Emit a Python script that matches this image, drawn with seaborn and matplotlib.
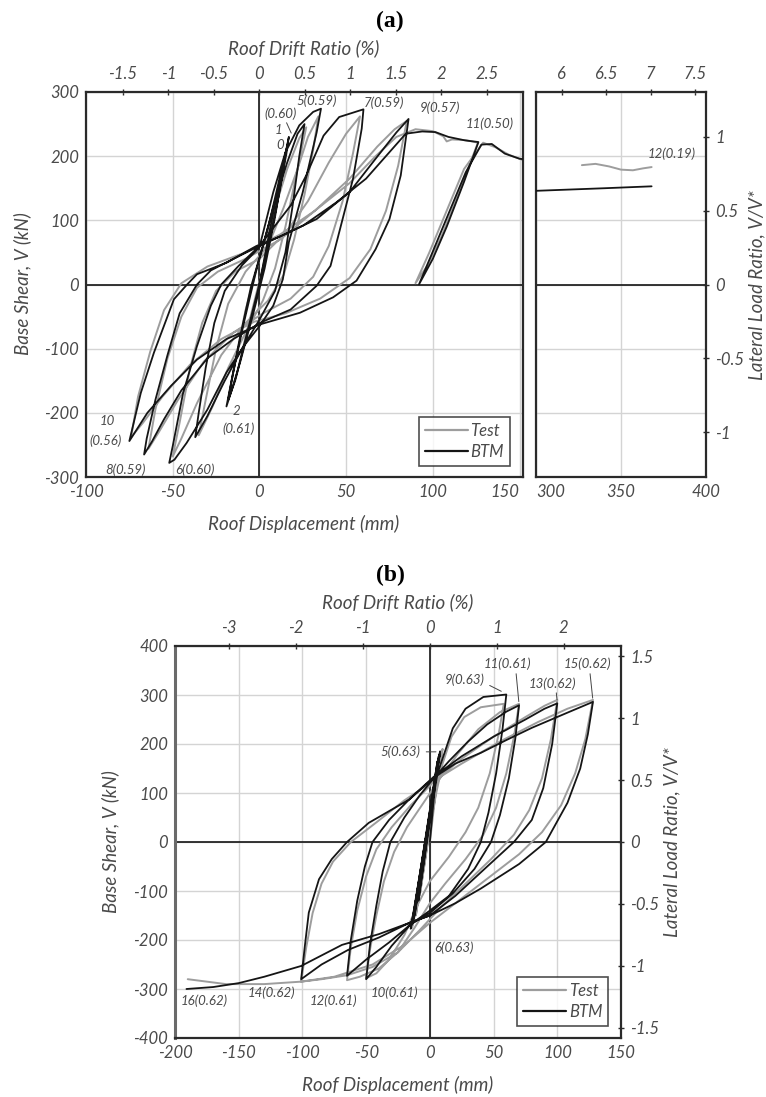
import matplotlib
matplotlib.use("Agg")
import matplotlib.pyplot as plt
from matplotlib.lines import Line2D
import pandas as pd
import seaborn as sns

# ---------------- data (roof displacement mm, base shear kN) ----------------
A_BTM_PATH = [
    (0, 0), (6, 85), (12, 165), (17, 230),
    (14, 185), (9, 105), (3, 25), (-4, -50), (-11, -120), (-16, -165), (-19, -190),
    (-15, -135), (-9, -60), (-2, 20), (6, 100), (12, 170), (16, 215),
    (12, 150), (6, 70), (-1, -10), (-8, -85), (-14, -150), (-18, -180),
    (-16, -150), (-11, -80), (-5, -5), (2, 60), (9, 130), (16, 190), (22, 235), (26, 250),
    (23, 200), (19, 120), (15, 50), (9, -10), (0, -55), (-10, -100), (-20, -150), (-30, -205), (-37, -238),
    (-35, -200), (-31, -130), (-26, -60), (-20, -10), (-10, 30), (0, 58), (8, 144), (15, 206), (23, 248),
    (31, 269), (35.5, 274),
    (33, 237), (25, 144), (17, 66), (13.5, 8), (8, -33), (0, -65), (-9, -96), (-19, -137), (-30, -195),
    (-42, -247), (-49, -273), (-52, -278),
    (-50, -252), (-44, -169), (-36, -96), (-28, -33), (-22, 0), (-12, 29), (0, 60), (6, 81), (18, 123),
    (27, 170), (37, 232), (46, 261), (60, 273),
    (59, 243), (54, 165), (46, 81), (41, 29), (33, -2), (18, -39), (1, -59), (-15, -85), (-30, -115),
    (-45, -165), (-55, -210), (-62, -245), (-66.5, -265),
    (-65, -240), (-60, -180), (-53, -110), (-46, -45), (-36, 0), (-28, 22), (-15, 40), (0, 60), (16, 80),
    (33, 102), (52, 144), (67, 196), (79, 237), (86, 258),
    (81.5, 170), (75, 102), (67, 55), (56, 6), (42.5, -20), (23.4, -44), (0.6, -62), (-19, -85),
    (-36, -117), (-51, -158), (-64.6, -200), (-75, -244),
    (-68.4, -169), (-60.8, -106), (-49.3, -23), (-41.7, 0), (-36, 16), (-18.9, 34), (-1.7, 60), (12, 75),
    (25.3, 92), (44.4, 128), (61.5, 165), (74.9, 206), (84.4, 235), (93.9, 238.5), (101.5, 237.5),
    (109, 230), (118.7, 224.5), (126.3, 222),
    (118, 160), (108, 90), (100, 40), (92, 0),
    (99, 45), (109, 110), (119, 175), (128, 218), (134, 219), (141.5, 204), (150, 196), (153, 195),
]
A_TEST_PATH = [
    (0, 0), (6, 80), (12, 160), (16, 210), (12, 150), (6, 70), (0, 5), (-7, -70), (-13, -140), (-18, -180),
    (-14, -120), (-8, -40), (-1, 30), (8, 110), (16, 180), (23, 228), (27, 245),
    (22, 180), (15, 90), (9, 25), (2, -25), (-8, -75), (-18, -130), (-27, -190), (-35, -235),
    (-31, -180), (-25, -100), (-18, -30), (-8, 20), (5, 60), (14, 120), (22, 180), (28, 230), (34, 262),
    (31, 210), (26, 140), (20, 70), (14, 15), (5, -25), (-8, -60), (-22, -110), (-36, -185), (-45, -240),
    (-50, -268),
    (-46, -215), (-40, -130), (-33, -60), (-25, -10), (-14, 20), (0, 40), (15, 80), (28, 130), (40, 190),
    (50, 235), (58, 262),
    (54, 205), (48, 130), (40, 60), (31, 12), (18, -22), (2, -45), (-15, -75), (-32, -120), (-47, -180),
    (-58, -230), (-64, -256),
    (-60, -195), (-53, -115), (-45, -50), (-36, -5), (-24, 20), (-8, 40), (12, 70), (32, 115), (52, 165),
    (68, 215), (78, 242), (85, 255),
    (80, 185), (73, 115), (64, 55), (52, 10), (35, -22), (15, -45), (-3, -58), (-22, -85), (-40, -125),
    (-56, -175), (-67, -215), (-74, -238),
    (-70, -175), (-63, -105), (-55, -40), (-45, 2), (-30, 28), (-10, 48), (12, 78), (32, 115), (52, 158),
    (67, 200), (79, 230), (90, 242), (100, 239), (106, 231), (108, 223), (111, 226), (119, 225), (126, 221),
    (116, 150), (105, 75), (97, 30), (90, 2),
    (98, 50), (108, 115), (118, 180), (129, 221), (136, 214), (144, 202), (153, 193),
]
A_BTM_FAR = [(300, 146), (320, 148), (340, 150), (368, 153)]
A_TEST_FAR = [(327, 186), (335, 188), (343, 184), (350, 179), (357, 178), (363, 181), (368, 183)]

B_BTM_PATH = [
    (0, 0), (4, 115), (-9, -120), (6, 160), (-12, -150), (8, 185), (-12, -144), (7, 175), (-14, -168),
    (6, 165), (-13, -160), (8, 182), (-15, -177),
    (-9, -90), (-3, 0), (2, 80), (6, 140), (11, 178), (18, 232), (28, 272), (42, 296), (60, 301),
    (57, 230), (52, 140), (46, 60), (40, 0), (30, -55), (15, -110), (0, -140), (-15, -168), (-30, -212),
    (-42, -255), (-50, -280),
    (-47, -210), (-42, -130), (-37, -60), (-31, 0), (-20, 50), (-8, 95), (3, 130), (15, 165), (30, 205),
    (45, 240), (60, 266), (70, 279),
    (67, 210), (62, 130), (55, 55), (48, 0), (35, -55), (18, -105), (0, -145), (-15, -168), (-32, -205),
    (-50, -240), (-60, -262), (-65, -273),
    (-62, -200), (-57, -120), (-51, -50), (-45, 0), (-32, 45), (-15, 90), (3, 133), (25, 175), (50, 215),
    (75, 250), (90, 272), (100, 283),
    (96, 200), (89, 110), (80, 45), (66, 0), (45, -50), (20, -110), (0, -150), (-16, -165), (-40, -195),
    (-64, -220), (-85, -250), (-101, -280),
    (-98, -210), (-95, -144), (-87, -76), (-77, -35), (-65, 0), (-48, 39), (-16, 87), (3, 131), (20, 160),
    (40, 182), (60, 208), (80, 233), (108, 264), (128, 286),
    (124, 220), (118, 150), (108, 80), (91, 0), (70, -45), (40, -95), (20, -125), (0, -150), (-16, -165),
    (-40, -188), (-69, -210), (-101, -253), (-130, -275), (-150, -288), (-170, -296), (-191, -300),
]
B_TEST_PATH = [
    (0, 0), (5, 110), (-8, -110), (7, 150), (-11, -150), (9, 185), (-13, -165), (10, 190), (-14, -175),
    (-10, -110), (-5, -40), (0, 30), (5, 100), (10, 160), (17, 215), (27, 255), (40, 275), (58, 282),
    (54, 220), (47, 140), (38, 70), (28, 20), (15, -30), (0, -80), (-10, -130), (-20, -190), (-32, -240),
    (-42, -268), (-50, -278),
    (-47, -220), (-42, -150), (-36, -80), (-28, -20), (-18, 30), (-5, 80), (8, 130), (22, 180), (38, 230),
    (55, 265), (70, 282),
    (66, 215), (60, 140), (52, 70), (42, 15), (28, -35), (12, -85), (0, -125), (-12, -175), (-25, -225),
    (-40, -258), (-55, -275), (-65, -282),
    (-62, -215), (-57, -140), (-50, -70), (-42, -15), (-30, 30), (-15, 75), (2, 120), (25, 170), (50, 215),
    (75, 255), (90, 278), (100, 290),
    (95, 210), (88, 130), (78, 65), (66, 15), (48, -35), (28, -85), (8, -135), (-8, -180), (-25, -225),
    (-45, -255), (-65, -272), (-85, -280), (-101, -285),
    (-97, -215), (-92, -145), (-85, -85), (-76, -40), (-62, 0), (-42, 40), (-20, 85), (0, 120), (25, 160),
    (55, 205), (85, 245), (108, 272), (128, 290),
    (122, 210), (114, 140), (103, 75), (88, 20), (70, -25), (45, -75), (20, -125), (0, -165), (-20, -210),
    (-45, -250), (-75, -275), (-101, -285), (-130, -290), (-160, -290), (-190, -280),
]

A_PEAK_LABELS = ["5(0.59)", "7(0.59)", "9(0.57)", "11(0.50)", "10", "(0.56)", "8(0.59)", "6(0.60)",
                 "2", "(0.61)", "(0.60)", "1", "0"]
A_PEAK_LABEL_POS = [(33, 287), (72, 284), (104, 276), (133, 250), (-88, -213), (-89, -244), (-77, -289),
                    (-37, -289), (-13, -197), (-12, -225), (12, 266), (11, 240), (12, 217)]
A_FAR_LABEL = "12(0.19)"
B_PEAK_LABELS = ["9(0.63)", "11(0.61)", "13(0.62)", "15(0.62)", "5(0.63)", "6(0.63)", "10(0.61)",
                 "12(0.61)", "14(0.62)", "16(0.62)"]
B_PEAK_LABEL_POS = [(27, 332), (61, 363), (96, 322), (124, 363), (-23, 184), (19, -216), (-28, -307),
                    (-76, -324), (-124, -307), (-177, -324)]

A_DISP_TICKS = [-100, -50, 0, 50, 100, 150]
A_FAR_TICKS = [300, 350, 400]
A_SHEAR_TICKS = [-300, -200, -100, 0, 100, 200, 300]
A_DRIFT_TICKS = [-1.5, -1, -0.5, 0, 0.5, 1, 1.5, 2, 2.5]
A_FAR_DRIFT_TICKS = [6, 6.5, 7, 7.5]
A_RATIO_TICKS = [-1, -0.5, 0, 0.5, 1]
B_DISP_TICKS = [-200, -150, -100, -50, 0, 50, 100, 150]
B_SHEAR_TICKS = [-400, -300, -200, -100, 0, 100, 200, 300, 400]
B_DRIFT_TICKS = [-3, -2, -1, 0, 1, 2]
B_RATIO_TICKS = [-1.5, -1, -0.5, 0, 0.5, 1, 1.5]

HEIGHT_MM = 5250.0      # roof height for drift ratio
A_VSTAR = 230.0
B_VSTAR = 253.0

# ---------------- style ----------------
sns.set_theme(style="white")
plt.rcParams["font.family"] = ["Lato", "DejaVu Sans"]
plt.rcParams["font.style"] = "italic"
plt.rcParams["axes.unicode_minus"] = False

TXT = "#4a4a4a"
GRAY = "#9d9d9d"
BLACK = "#151515"
GRID = "#d4d4d4"
SPINE = "#2a2a2a"
TICK_FS = 12
LAB_FS = 13.5
ANN_FS = 9.5

W, H = 766, 1097
fig = plt.figure(figsize=(W / 100, H / 100), dpi=100)


def box(l, t, r, b):
    return [l / W, 1 - b / H, (r - l) / W, (b - t) / H]


def fmt(v):
    return "%g" % v


def draw(ax, path, color, lw, z):
    df = pd.DataFrame(path, columns=["disp", "shear"])
    sns.lineplot(data=df, x="disp", y="shear", sort=False, estimator=None, color=color,
                 lw=lw, ax=ax, legend=False, zorder=z)


def style_axes(ax, xticks, yticks, show_y=True):
    ax.set_xticks(xticks)
    ax.set_xticklabels([fmt(v) for v in xticks])
    ax.set_yticks(yticks)
    if show_y:
        ax.set_yticklabels([fmt(v) for v in yticks])
    else:
        ax.set_yticklabels([])
    ax.grid(True, color=GRID, lw=1.0)
    ax.set_axisbelow(True)
    ax.axhline(0, color=BLACK, lw=1.2, zorder=1.5)
    for s in ax.spines.values():
        s.set_color(SPINE)
        s.set_linewidth(1.6)
        s.set_visible(True)
    ax.tick_params(axis="both", length=0, labelsize=TICK_FS, labelcolor=TXT)
    ax.tick_params(axis="x", pad=5)
    ax.tick_params(axis="y", pad=5)
    ax.set_xlabel("")
    ax.set_ylabel("")


def top_axis(ax, ticks):
    sec = ax.secondary_xaxis("top", functions=(lambda d: d / HEIGHT_MM * 100, lambda r: r * HEIGHT_MM / 100))
    sec.set_xticks(ticks)
    sec.set_xticklabels([fmt(v) for v in ticks])
    sec.tick_params(direction="inout", length=5, width=1.0, color=SPINE, labelsize=TICK_FS,
                    labelcolor=TXT, pad=5)
    sec.spines["top"].set_visible(False)
    return sec


def right_axis(ax, vstar, ticks):
    sec = ax.secondary_yaxis("right", functions=(lambda v: v / vstar, lambda r: r * vstar))
    sec.set_yticks(ticks)
    sec.set_yticklabels([fmt(v) for v in ticks])
    sec.tick_params(direction="inout", length=5, width=1.0, color=SPINE, labelsize=TICK_FS,
                    labelcolor=TXT, pad=4)
    sec.spines["right"].set_visible(False)
    return sec


legend_handles = [Line2D([], [], color=GRAY, lw=1.6, label="Test"),
                  Line2D([], [], color=BLACK, lw=1.6, label="BTM")]


def add_legend(ax, anchor):
    leg = ax.legend(handles=legend_handles, loc="lower right", bbox_to_anchor=anchor,
                    borderaxespad=0, fancybox=False, frameon=True, fontsize=12,
                    handlelength=2.6, handletextpad=0.15, borderpad=0.35, labelspacing=0.3)
    leg.get_frame().set_edgecolor("#222222")
    leg.get_frame().set_linewidth(1.2)
    for t in leg.get_texts():
        t.set_color(TXT)


# ---------------- panel (a) ----------------
axa = fig.add_axes(box(86, 92, 523, 477))
draw(axa, A_TEST_PATH, GRAY, 1.4, 2)
draw(axa, A_BTM_PATH, BLACK, 1.3, 3)
axa.set_xlim(-100, 152)
axa.set_ylim(-300, 300)
style_axes(axa, A_DISP_TICKS, A_SHEAR_TICKS)
axa.axvline(0, color=BLACK, lw=1.2, zorder=1.5)
lbls = axa.get_xticklabels()
lbls[-1].set_horizontalalignment("right")
top_axis(axa, A_DRIFT_TICKS)
add_legend(axa, (0.970, 0.029))
for s, (x, y) in zip(A_PEAK_LABELS, A_PEAK_LABEL_POS):
    axa.text(x, y, s, ha="center", va="center", fontsize=ANN_FS, color=TXT, zorder=5)
axa.annotate("", xy=(19, 232), xytext=(15, 256),
             arrowprops=dict(arrowstyle="-", color="#444444", lw=0.7))

axf = fig.add_axes(box(536, 92, 706, 477))
draw(axf, A_TEST_FAR, GRAY, 1.4, 2)
draw(axf, A_BTM_FAR, BLACK, 1.3, 3)
axf.set_xlim(300, 400)
axf.set_ylim(-300, 300)
style_axes(axf, A_FAR_TICKS, A_SHEAR_TICKS, show_y=False)
lbls = axf.get_xticklabels()
lbls[0].set_horizontalalignment("left")
top_axis(axf, A_FAR_DRIFT_TICKS)
right_axis(axf, A_VSTAR, A_RATIO_TICKS)
axf.text(380, 203, A_FAR_LABEL, ha="center", va="center", fontsize=ANN_FS, color=TXT)

fig.text(390 / W, 1 - 21 / H, "(a)", family="Liberation Serif", weight="bold", style="normal",
         fontsize=17, ha="center", va="center", color="black")
fig.text(304 / W, 1 - 48 / H, "Roof Drift Ratio (%)", ha="center", va="center", fontsize=LAB_FS, color=TXT)
fig.text(304 / W, 1 - 524 / H, "Roof Displacement (mm)", ha="center", va="center", fontsize=LAB_FS,
         color=TXT)
fig.text(22 / W, 1 - 284 / H, "Base Shear, V (kN)", rotation=90, ha="center", va="center",
         fontsize=LAB_FS, color=TXT)
fig.text(757 / W, 1 - 285 / H, "Lateral Load Ratio, V/V*", rotation=90, ha="center", va="center",
         fontsize=LAB_FS, color=TXT)

# ---------------- panel (b) ----------------
axb = fig.add_axes(box(175, 646, 621, 1038))
draw(axb, B_TEST_PATH, GRAY, 1.4, 2)
draw(axb, B_BTM_PATH, BLACK, 1.3, 3)
axb.set_xlim(-200, 150)
axb.set_ylim(-400, 400)
style_axes(axb, B_DISP_TICKS, B_SHEAR_TICKS)
axb.axvline(0, color=BLACK, lw=1.2, zorder=1.5)
axb.spines["left"].set_color("#6a6a6a")
axb.spines["left"].set_linewidth(2.2)
top_axis(axb, B_DRIFT_TICKS)
right_axis(axb, B_VSTAR, B_RATIO_TICKS)
add_legend(axb, (0.971, 0.031))
for s, (x, y) in zip(B_PEAK_LABELS, B_PEAK_LABEL_POS):
    axb.text(x, y, s, ha="center", va="center", fontsize=ANN_FS, color=TXT, zorder=5)
ann = dict(arrowstyle="-", color="#444444", lw=0.7)
axb.annotate("", xy=(58, 305), xytext=(45, 322), arrowprops=ann)
axb.annotate("", xy=(70, 281), xytext=(67.5, 349), arrowprops=ann)
axb.annotate("", xy=(100, 285), xytext=(99, 310), arrowprops=ann)
axb.annotate("", xy=(128, 288), xytext=(125.5, 349), arrowprops=ann)
axb.annotate("", xy=(7, 184), xytext=(-5, 184), arrowprops=ann)

fig.text(390 / W, 1 - 575 / H, "(b)", family="Liberation Serif", weight="bold", style="normal",
         fontsize=17, ha="center", va="center", color="black")
fig.text(398 / W, 1 - 602 / H, "Roof Drift Ratio (%)", ha="center", va="center", fontsize=LAB_FS, color=TXT)
fig.text(398 / W, 1 - 1085 / H, "Roof Displacement (mm)", ha="center", va="center", fontsize=LAB_FS,
         color=TXT)
fig.text(110 / W, 1 - 842 / H, "Base Shear, V (kN)", rotation=90, ha="center", va="center",
         fontsize=LAB_FS, color=TXT)
fig.text(672 / W, 1 - 842 / H, "Lateral Load Ratio, V/V*", rotation=90, ha="center", va="center",
         fontsize=LAB_FS, color=TXT)

fig.savefig("out.png", dpi=100)
